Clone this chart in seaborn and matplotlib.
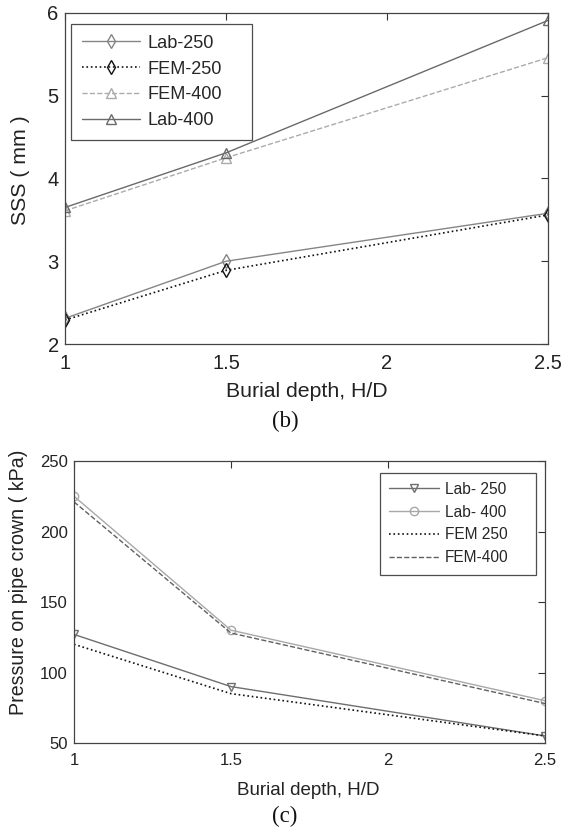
import numpy as np
import pandas as pd
import matplotlib
matplotlib.use("Agg")
import matplotlib.pyplot as plt
import seaborn as sns

depth = [1.0, 1.5, 2.5]

# Panel (b): SSS (mm)
sss_lab250 = [2.31, 3.00, 3.58]
sss_fem250 = [2.29, 2.89, 3.56]
sss_fem400 = [3.61, 4.25, 5.46]
sss_lab400 = [3.65, 4.31, 5.91]

# Panel (c): Pressure on pipe crown (kPa)
p_lab250 = [127, 90, 55]
p_lab400 = [225, 130, 80]
p_fem250 = [120, 85, 55]
p_fem400 = [221, 128, 78]

sns.set_theme(style="white")
plt.rcParams['font.family'] = ['Liberation Sans', 'DejaVu Sans']

fig = plt.figure(figsize=(5.64, 8.30), dpi=100)
W, H = 564, 830
ax1 = fig.add_axes([65 / W, 1 - 344 / H, (548 - 65) / W, (344 - 13) / H])
ax2 = fig.add_axes([74 / W, 1 - 743 / H, (545 - 74) / W, (743 - 461) / H])

def line(ax, y, label, color, ls, marker, lw=1.0, ms=7, mec=None):
    df = pd.DataFrame({'x': depth, 'y': y})
    sns.lineplot(data=df, x='x', y='y', ax=ax, label=label, color=color,
                 linestyle=ls, marker=marker, markersize=ms, linewidth=lw,
                 markerfacecolor='none', markeredgecolor=mec or color,
                 markeredgewidth=1.0)

line(ax1, sss_lab250, 'Lab-250', '#858585', '-', 'd')
line(ax1, sss_fem250, 'FEM-250', '#111111', ':', 'd', lw=1.2)
line(ax1, sss_fem400, 'FEM-400', '#ababab', '--', '^')
line(ax1, sss_lab400, 'Lab-400', '#6a6a6a', '-', '^')

line(ax2, p_lab250, 'Lab- 250', '#6e6e6e', '-', 'v', ms=6)
line(ax2, p_lab400, 'Lab- 400', '#a8a8a8', '-', 'o', ms=6)
line(ax2, p_fem250, 'FEM 250', '#111111', ':', None, lw=1.2)
line(ax2, p_fem400, 'FEM-400', '#606060', '--', None)

for ax in (ax1, ax2):
    ax.set_xlim(1, 2.5)
    ax.set_xticks([1, 1.5, 2, 2.5])
    ax.set_xticklabels(['1', '1.5', '2', '2.5'])
    ax.tick_params(direction='in', top=True, right=True, length=5, width=0.8,
                   color='#333333', labelcolor='#222222')
    ax.tick_params(axis='x', pad=7)
    ax.tick_params(axis='y', pad=4.5)
    for s in ax.spines.values():
        s.set_color('#444444')
        s.set_linewidth(0.9)

ax1.set_ylim(2, 6)
ax1.set_yticks([2, 3, 4, 5, 6])
ax1.tick_params(labelsize=14.5)
ax1.set_xlabel('Burial depth, H/D', fontsize=15.3, color='#222222')
ax1.set_ylabel('SSS ( mm )', fontsize=15.3, color='#222222')
ax1.xaxis.set_label_coords(0.5, -0.145)
ax1.yaxis.set_label_coords(-0.093, 0.526)
for t in (ax1.xaxis.label, ax1.yaxis.label):
    t.set_va('center')

ax2.set_ylim(50, 250)
ax2.set_yticks([50, 100, 150, 200, 250])
ax2.tick_params(labelsize=12)
ax2.set_xlabel('Burial depth, H/D', fontsize=13.5, color='#222222')
ax2.set_ylabel('Pressure on pipe crown ( kPa)', fontsize=14.1, color='#222222')
ax2.xaxis.set_label_coords(0.498, -0.167)
ax2.yaxis.set_label_coords(-0.118, 0.571)
for t in (ax2.xaxis.label, ax2.yaxis.label):
    t.set_va('center')

leg1 = ax1.legend(loc='upper left', bbox_to_anchor=(0.0124, 0.0, 0.375, 0.967),
                  mode='expand', borderaxespad=0, fontsize=13.1,
                  frameon=True, fancybox=False, edgecolor='#222222',
                  handlelength=3.2, borderpad=0.6, labelspacing=0.48,
                  handletextpad=0.38)
leg1.get_frame().set_linewidth(0.9)
leg2 = ax2.legend(loc='upper left', bbox_to_anchor=(0.65, 0.0, 0.331, 0.959),
                  mode='expand', borderaxespad=0, fontsize=11.2,
                  frameon=True, fancybox=False, edgecolor='#222222',
                  handlelength=3.2, borderpad=0.6, labelspacing=0.5,
                  handletextpad=0.34)
leg2.get_frame().set_linewidth(0.9)

fig.text(285 / W, 1 - 421 / H, '(b)', ha='center', va='center',
         fontsize=16.5, family=['Liberation Serif', 'DejaVu Serif'], color='#111111')
fig.text(285 / W, 1 - 816 / H, '(c)', ha='center', va='center',
         fontsize=16.5, family=['Liberation Serif', 'DejaVu Serif'], color='#111111')

fig.savefig('out.png', dpi=100)
